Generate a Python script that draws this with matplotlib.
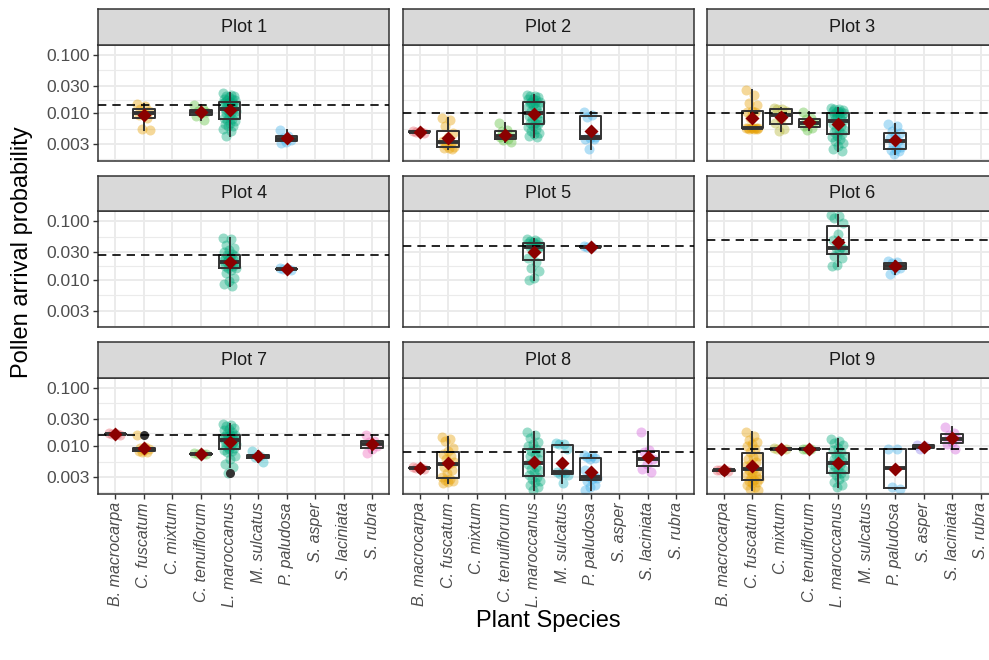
import numpy as np
import matplotlib.pyplot as plt

plt.rcParams['font.family'] = ['Liberation Sans', 'DejaVu Sans']

# 物种与配色
species = ["B. macrocarpa", "C. fuscatum", "C. mixtum", "C. tenuiflorum",
           "L. maroccanus", "M. sulcatus", "P. paludosa", "S. asper",
           "S. laciniata", "S. rubra"]
colors = ["#E8606A", "#E69F00", "#B3B32E", "#5BBF3A", "#00A87A",
          "#22B3C2", "#3FB0EA", "#8E80EA", "#D45FDB", "#EE66BB"]

# 每个样地的花粉到达概率
plot1 = {
    "C. fuscatum": [0.0145, 0.0135, 0.0118, 0.0110, 0.0101, 0.0095, 0.0083, 0.0055, 0.0053],
    "C. tenuiflorum": [0.0140, 0.0118, 0.0112, 0.0106, 0.0100, 0.0092, 0.0078],
    "L. maroccanus": [0.022, 0.021, 0.020, 0.020, 0.019, 0.018, 0.018, 0.017, 0.017, 0.016,
                      0.016, 0.015, 0.015, 0.015, 0.014, 0.014, 0.013, 0.013, 0.012, 0.012,
                      0.011, 0.011, 0.010, 0.010, 0.0095, 0.009, 0.0085, 0.008, 0.0078,
                      0.0075, 0.007, 0.0066, 0.0062, 0.006, 0.0055, 0.005, 0.0042],
    "P. paludosa": [0.0052, 0.0042, 0.0038, 0.0035, 0.0033, 0.0031],
}
plot2 = {
    "B. macrocarpa": [0.0051, 0.0049, 0.0048, 0.0047],
    "C. fuscatum": [0.0085, 0.0078, 0.0060, 0.0047, 0.0040, 0.0034, 0.0031, 0.0029,
                    0.0027, 0.0026, 0.0026, 0.0025],
    "C. tenuiflorum": [0.0068, 0.0052, 0.0050, 0.0045, 0.0042, 0.0040, 0.0037, 0.0035, 0.0033],
    "L. maroccanus": [0.021, 0.020, 0.020, 0.019, 0.018, 0.018, 0.017, 0.016, 0.016, 0.015,
                      0.015, 0.014, 0.014, 0.013, 0.012, 0.011, 0.010, 0.0095, 0.009, 0.0085,
                      0.008, 0.0075, 0.007, 0.0068, 0.0065, 0.006, 0.0058, 0.0055, 0.005,
                      0.0047, 0.0045, 0.0042, 0.0039],
    "P. paludosa": [0.0107, 0.0096, 0.0088, 0.0040, 0.0038, 0.0037, 0.0036, 0.0025],
}
plot3 = {
    "C. fuscatum": [0.025, 0.021, 0.015, 0.014, 0.011, 0.0107, 0.0105, 0.0085, 0.0057,
                    0.0056, 0.0056, 0.0056, 0.0056, 0.0056, 0.0055, 0.0055, 0.0054],
    "C. mixtum": [0.0125, 0.0120, 0.0117, 0.0110, 0.0080, 0.0070, 0.0055, 0.0050],
    "C. tenuiflorum": [0.0105, 0.0085, 0.0080, 0.0072, 0.0068, 0.0060, 0.0057, 0.0052],
    "L. maroccanus": [0.0124, 0.012, 0.0118, 0.0115, 0.0112, 0.011, 0.0108, 0.0105, 0.0102,
                      0.010, 0.0098, 0.0095, 0.0092, 0.009, 0.0085, 0.008, 0.0075, 0.007,
                      0.0065, 0.006, 0.0055, 0.0052, 0.005, 0.0048, 0.0045, 0.0042, 0.004,
                      0.0037, 0.0034, 0.0031, 0.0028, 0.0025, 0.0023],
    "P. paludosa": [0.0066, 0.0060, 0.0050, 0.0047, 0.0042, 0.0038, 0.0034, 0.0030,
                    0.0027, 0.0025, 0.0024, 0.0023, 0.0020],
}
plot4 = {
    "L. maroccanus": [0.052, 0.050, 0.040, 0.035, 0.032, 0.030, 0.028, 0.027, 0.026, 0.025,
                      0.024, 0.023, 0.022, 0.021, 0.020, 0.020, 0.019, 0.018, 0.017, 0.017,
                      0.016, 0.016, 0.015, 0.013, 0.011, 0.0095, 0.0085, 0.0080],
    "P. paludosa": [0.0158, 0.0155, 0.0153, 0.0151],
}
plot5 = {
    "L. maroccanus": [0.050, 0.048, 0.046, 0.045, 0.044, 0.043, 0.042, 0.040, 0.038, 0.037,
                      0.036, 0.035, 0.030, 0.024, 0.020, 0.016, 0.014, 0.011, 0.010],
    "P. paludosa": [0.038, 0.037, 0.036],
}
plot6 = {
    "L. maroccanus": [0.130, 0.125, 0.115, 0.095, 0.060, 0.048, 0.036, 0.035, 0.034,
                      0.033, 0.026, 0.024, 0.018, 0.017],
    "P. paludosa": [0.0215, 0.0200, 0.0195, 0.0160, 0.0150, 0.0125],
}
plot7 = {
    "B. macrocarpa": [0.0168, 0.0165, 0.0162, 0.0160],
    "C. fuscatum": [0.0160, 0.0097, 0.0095, 0.0092, 0.0088, 0.0083, 0.0081, 0.0080],
    "C. tenuiflorum": [0.0077, 0.0075, 0.0074, 0.0073],
    "L. maroccanus": [0.024, 0.023, 0.022, 0.021, 0.020, 0.019, 0.018, 0.017, 0.016, 0.016,
                      0.015, 0.015, 0.015, 0.014, 0.014, 0.014, 0.013, 0.013, 0.012, 0.012,
                      0.011, 0.011, 0.010, 0.010, 0.0095, 0.009, 0.0088, 0.0085, 0.008,
                      0.007, 0.006, 0.005, 0.0045, 0.0035],
    "M. sulcatus": [0.0085, 0.0069, 0.0067, 0.0055],
    "S. rubra": [0.0155, 0.0125, 0.0118, 0.0100, 0.0092, 0.0076],
}
plot8 = {
    "B. macrocarpa": [0.0044, 0.0043, 0.0043, 0.0042],
    "C. fuscatum": [0.0145, 0.0135, 0.0125, 0.0095, 0.0085, 0.0075, 0.0070, 0.0060, 0.0055,
                    0.0050, 0.0045, 0.0040, 0.0035, 0.0030, 0.0028, 0.0027, 0.0026,
                    0.0025, 0.0024],
    "L. maroccanus": [0.018, 0.016, 0.014, 0.012, 0.011, 0.010, 0.0092, 0.0085, 0.0080,
                      0.0075, 0.0068, 0.0060, 0.0055, 0.0050, 0.0045, 0.0042, 0.0040,
                      0.0036, 0.0033, 0.0030, 0.0028, 0.0026, 0.0025, 0.0022, 0.0020, 0.0018],
    "M. sulcatus": [0.0115, 0.0112, 0.0110, 0.0090, 0.0037, 0.0036, 0.0035, 0.0034,
                    0.0032, 0.0024],
    "P. paludosa": [0.0072, 0.0068, 0.0066, 0.0064, 0.0060, 0.0040, 0.0031, 0.0030,
                    0.0029, 0.0028, 0.0026, 0.0022, 0.0020, 0.0018],
    "S. laciniata": [0.0180, 0.0088, 0.0080, 0.0062, 0.0050, 0.0042, 0.0037],
}
plot9 = {
    "B. macrocarpa": [0.0040, 0.0039, 0.0039, 0.0038],
    "C. fuscatum": [0.018, 0.015, 0.013, 0.012, 0.011, 0.010, 0.0090, 0.0080, 0.0070,
                    0.0065, 0.0060, 0.0055, 0.0050, 0.0046, 0.0043, 0.0040, 0.0038,
                    0.0035, 0.0033, 0.0031, 0.0030, 0.0028, 0.0027, 0.0026, 0.0025,
                    0.0024, 0.0022, 0.0020, 0.0019, 0.0018],
    "C. mixtum": [0.0093, 0.0091, 0.0090, 0.0089],
    "C. tenuiflorum": [0.0092, 0.0091, 0.0090],
    "L. maroccanus": [0.0135, 0.0125, 0.0115, 0.0105, 0.0095, 0.0088, 0.0080, 0.0072,
                      0.0068, 0.0065, 0.0060, 0.0056, 0.0053, 0.0050, 0.0048, 0.0045,
                      0.0042, 0.0040, 0.0037, 0.0035, 0.0033, 0.0031, 0.0028, 0.0025,
                      0.0022, 0.0020],
    "P. paludosa": [0.0091, 0.0090, 0.0020, 0.0019],
    "S. asper": [0.0108, 0.0100, 0.0090],
    "S. laciniata": [0.0215, 0.0170, 0.0155, 0.0135, 0.0120, 0.0110, 0.0092],
}
plots = [plot1, plot2, plot3, plot4, plot5, plot6, plot7, plot8, plot9]

# 各样地的参考水平线
ref_lines = [0.0138, 0.0103, 0.0103, 0.027, 0.0375, 0.0474, 0.0155, 0.0080, 0.0091]

y_ticks = [0.003, 0.01, 0.03, 0.1]
y_tick_labels = ["0.003", "0.010", "0.030", "0.100"]

# 画布与分面位置（像素）
W, H = 989, 660
fig = plt.figure(figsize=(W / 100, H / 100), dpi=100)
col_left = [98.3, 402.5, 706.7]
row_top = [44.8, 211.3, 377.8]
pw, ph, sh = 291, 116, 35.5


def px_box(l, t, w, h):
    return [l / W, 1 - (t + h) / H, w / W, h / H]


major = np.log10(y_ticks)
steps = np.diff(major)
ext = np.concatenate([[major[0] - steps[0]], major, [major[-1] + steps[-1]]])
minor = (ext[:-1] + ext[1:]) / 2
ylo, yhi = -2.809, -0.826
xs = np.arange(1, len(species) + 1)

for k, data in enumerate(plots):
    r, c = divmod(k, 3)
    ax = fig.add_axes(px_box(col_left[c], row_top[r], pw, ph))
    ax.set_xlim(0.4, 10.6)
    ax.set_ylim(ylo, yhi)

    # 网格
    ax.set_xticks(xs)
    ax.set_yticks(major)
    ax.set_yticks(minor[(minor > ylo) & (minor < yhi)], minor=True)
    ax.grid(which='major', color='#EBEBEB', lw=1.4, zorder=0)
    ax.grid(which='minor', axis='y', color='#EBEBEB', lw=0.8, zorder=0)
    ax.set_axisbelow(True)
    ax.tick_params(which='minor', length=0)
    ax.tick_params(which='major', color='#333333', width=1.0, length=3.5,
                   labelcolor='#4D4D4D', pad=2.5)
    for sp in ax.spines.values():
        sp.set_color('#333333')
        sp.set_linewidth(1.1)

    if c == 0:
        ax.set_yticklabels(y_tick_labels, fontsize=12.5)
    else:
        ax.tick_params(axis='y', length=0, labelleft=False)
    if r == 2:
        ax.set_xticklabels(species, rotation=90, fontsize=11.5, style='italic')
    else:
        ax.tick_params(axis='x', length=0, labelbottom=False)

    present = [i for i, s in enumerate(species) if s in data]
    logs = [np.log10(data[species[i]]) for i in present]
    pos = [i + 1 for i in present]

    # 抖动散点
    for i, vals in zip(present, logs):
        n = len(vals)
        offs = (((np.arange(n) * 0.618034) % 1.0) - 0.5) * 0.46
        ax.scatter(i + 1 + offs, vals, s=52, color=colors[i], alpha=0.4,
                   linewidths=0, zorder=2)

    # 箱线图（对数尺度上计算）
    ax.boxplot(logs, positions=pos, widths=0.75, showcaps=False, manage_ticks=False,
               boxprops=dict(color='#333333', lw=1.4),
               whiskerprops=dict(color='#333333', lw=1.4),
               medianprops=dict(color='#333333', lw=2.8),
               flierprops=dict(marker='o', markerfacecolor='#333333',
                               markeredgecolor='none', markersize=6.5),
               zorder=3)

    ax.axhline(np.log10(ref_lines[k]), color='black', lw=1.2,
               ls=(0, (5.0, 3.6)), zorder=4)

    # 均值（菱形）
    means = [v.mean() for v in logs]
    ax.plot(pos, means, ls='none', marker='D', ms=7.6, color='#8B0000',
            mec='none', zorder=5)

    # 分面标题条
    sx = fig.add_axes(px_box(col_left[c], row_top[r] - sh, pw, sh))
    sx.set_facecolor('#D9D9D9')
    sx.set_xticks([])
    sx.set_yticks([])
    for sp in sx.spines.values():
        sp.set_color('#333333')
        sp.set_linewidth(1.1)
    sx.text(0.5, 0.5, f"Plot {k + 1}", ha='center', va='center', fontsize=13,
            color='#1A1A1A', transform=sx.transAxes)

fig.text(22 / W, 1 - 252 / H, "Pollen arrival probability", rotation=90,
         ha='center', va='center', fontsize=17, color='black')
fig.text(548 / W, 1 - 621 / H, "Plant Species", ha='center', va='center',
         fontsize=17, color='black')

fig.savefig('out.png', dpi=100)
